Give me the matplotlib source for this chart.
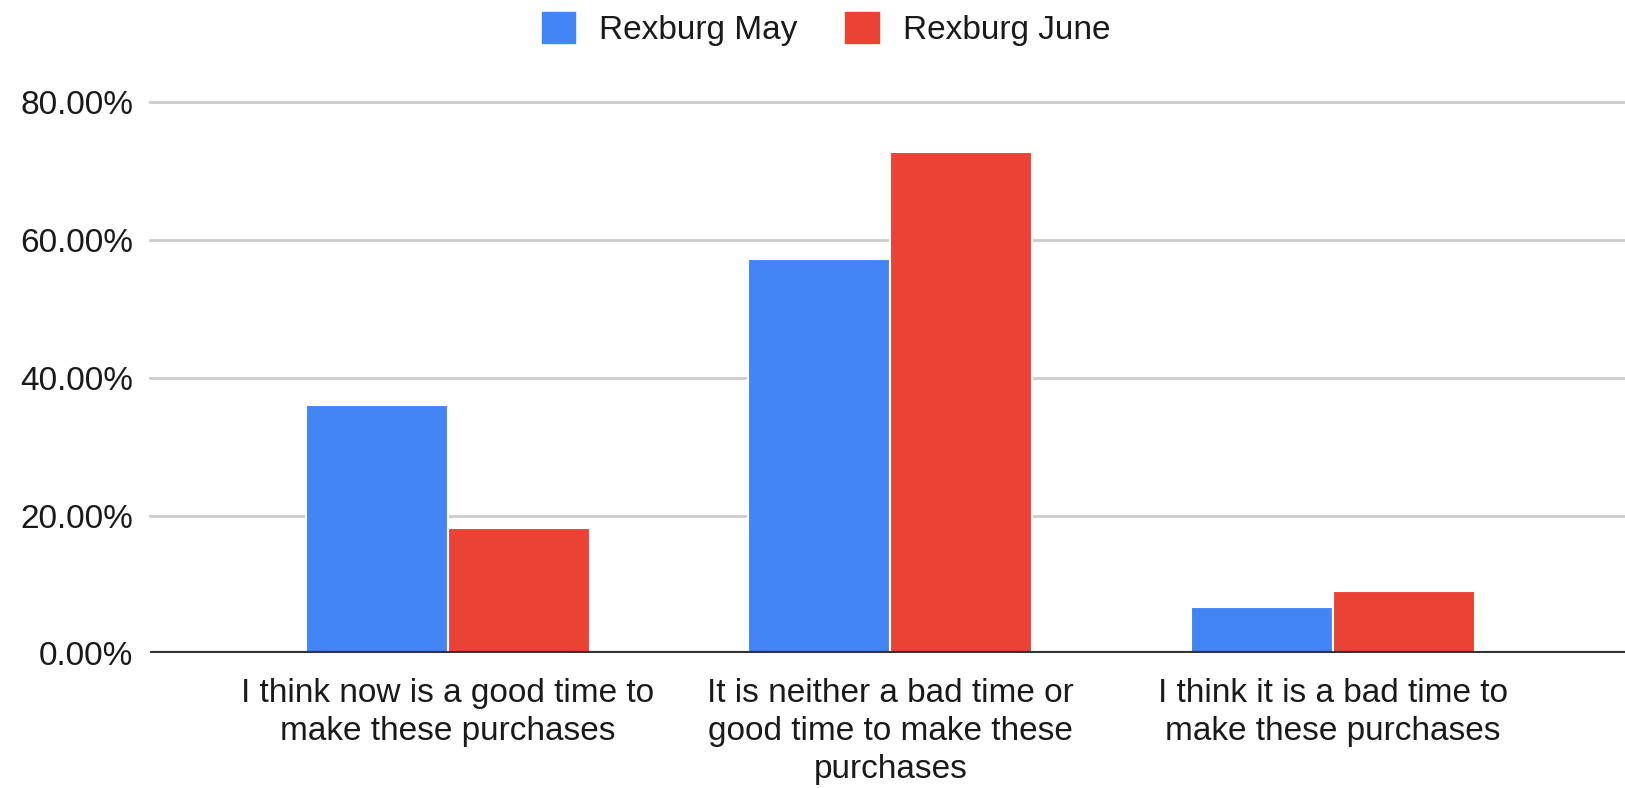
import matplotlib
matplotlib.use("Agg")
import matplotlib.pyplot as plt
from matplotlib.patches import Patch
import numpy as np

categories = [
    "I think now is a good time to\nmake these purchases",
    "It is neither a bad time or\ngood time to make these\npurchases",
    "I think it is a bad time to\nmake these purchases",
]
series_names = ["Rexburg May", "Rexburg June"]
may_values = [36.0, 57.2, 6.8]
june_values = [18.2, 72.7, 9.1]
y_ticks = [0, 20, 40, 60, 80]
y_tick_labels = ["0.00%", "20.00%", "40.00%", "60.00%", "80.00%"]

colors = ["#4285F4", "#EA4335"]

plt.rcParams['font.family'] = ['Liberation Sans', 'DejaVu Sans']

fig = plt.figure(figsize=(16.25, 7.88), dpi=100)
ax = fig.add_axes([150 / 1625, 1 - 653.4 / 788, 1 - 150 / 1625, (653.4 - 101.8) / 788])

x = np.arange(len(categories))
w = 0.321
ax.bar(x - w / 2, may_values, width=w, color=colors[0], edgecolor="white", linewidth=1.5, zorder=3)
ax.bar(x + w / 2, june_values, width=w, color=colors[1], edgecolor="white", linewidth=1.5, zorder=3)

ax.set_xlim(-0.673, 2.66)
ax.set_ylim(0, 80)
ax.set_yticks(y_ticks)
ax.set_yticklabels(y_tick_labels, fontsize=24, color="#1a1a1a")
ax.set_xticks(x)
ax.set_xticklabels(categories, fontsize=24, color="#1a1a1a", linespacing=1.28)
ax.tick_params(axis="y", length=0, pad=12)
ax.tick_params(axis="x", length=0, pad=18)

for v in y_ticks[1:]:
    ax.axhline(v, color="#cccccc", linewidth=2, zorder=1, clip_on=False)
ax.axhline(0, color="#333333", linewidth=3, zorder=4)

for s in ax.spines.values():
    s.set_visible(False)

handles = [Patch(facecolor=c, edgecolor=c) for c in colors]
fig.legend(handles, series_names, loc="center", bbox_to_anchor=(826 / 1625, 1 - 29 / 788),
           ncol=2, frameon=False, fontsize=24, handlelength=1.0, handleheight=1.05,
           handletextpad=0.72, columnspacing=1.44, borderaxespad=0, labelcolor="#1a1a1a")

fig.savefig("out.png", dpi=100, facecolor="white")
